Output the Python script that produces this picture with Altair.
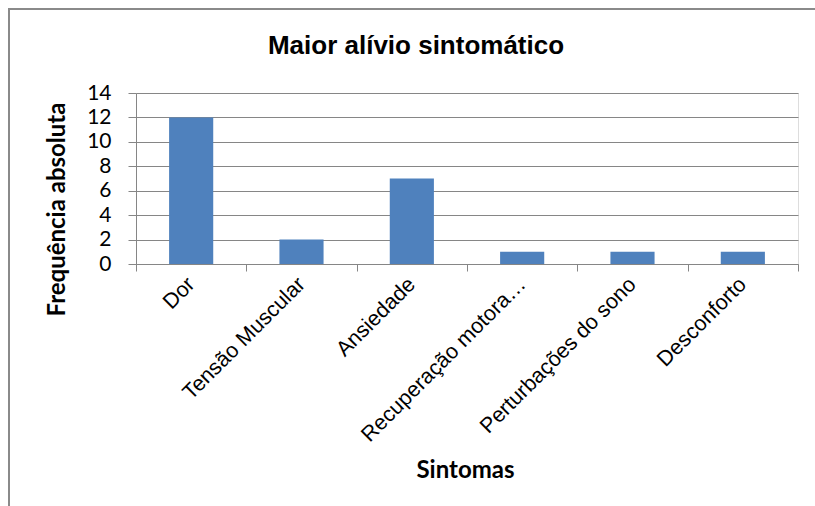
import altair as alt
import pandas as pd

categories = ["Dor", "Tensão Muscular", "Ansiedade", "Recuperação motora…",
              "Perturbações do sono", "Desconforto"]
values = [12, 2, 7, 1, 1, 1]
y_ticks = [0, 2, 4, 6, 8, 10, 12, 14]

df = pd.DataFrame({"Sintomas": categories, "Frequência absoluta": values})

GRAY = "#868686"

bars = alt.Chart(df).mark_bar(
    color="#4F81BD", width=alt.RelativeBandSize(0.4)
).encode(
    x=alt.X("Sintomas:N", sort=categories,
            scale=alt.Scale(paddingInner=0, paddingOuter=0),
            axis=alt.Axis(
                title="Sintomas", labelAngle=-45, labelAlign="right",
                labelBaseline="middle", labelFont="Liberation Sans",
                labelFontSize=21.5, labelColor="black", labelPadding=10,
                labelLimit=400, tickBand="extent", tickSize=7,
                tickColor=GRAY, domainColor=GRAY, grid=False,
                titleFont="Lato", titleFontSize=24, titleFontWeight="bold",
                titleColor="black", titleX=329, titleY=213,
                titleBaseline="alphabetic", titleAlign="center")),
    y=alt.Y("Frequência absoluta:Q",
            scale=alt.Scale(domain=[0, 14], nice=False),
            axis=alt.Axis(
                values=y_ticks, tickSize=8, tickColor=GRAY, domainColor=GRAY,
                gridColor=GRAY, gridWidth=1, labelFont="Lato",
                labelFontSize=21, labelColor="black", labelPadding=17,
                titleFont="Lato", titleFontSize=24, titleFontWeight="bold",
                titleColor="black", titleX=-79, titleY=116,
                titleBaseline="middle", titleAlign="center", titleAngle=-90)),
)

frame_data = alt.Data(values=[{}])
frame_left = alt.Chart(frame_data).mark_rule(color="#8a8a8a", strokeWidth=2).encode(
    x=alt.value(-127), y=alt.value(-84), y2=alt.value(420))
frame_top = alt.Chart(frame_data).mark_rule(color="#8a8a8a", strokeWidth=2).encode(
    x=alt.value(-128), x2=alt.value(700), y=alt.value(-84))

chart = alt.layer(bars, frame_left, frame_top).properties(
    width=662, height=171,
    title=alt.TitleParams(
        "Maior alívio sintomático", font="Liberation Sans", fontSize=26,
        fontWeight="bold", color="black", anchor="middle", dx=-51,
        offset=0, dy=72, baseline="alphabetic"),
    autosize=alt.AutoSizeParams(type="none"),
    padding={"left": 136, "top": 93, "right": 17, "bottom": 242},
).configure_view(stroke=None).configure(background="white")

chart.save("out.html", embed_options={"renderer": "svg", "actions": False})
